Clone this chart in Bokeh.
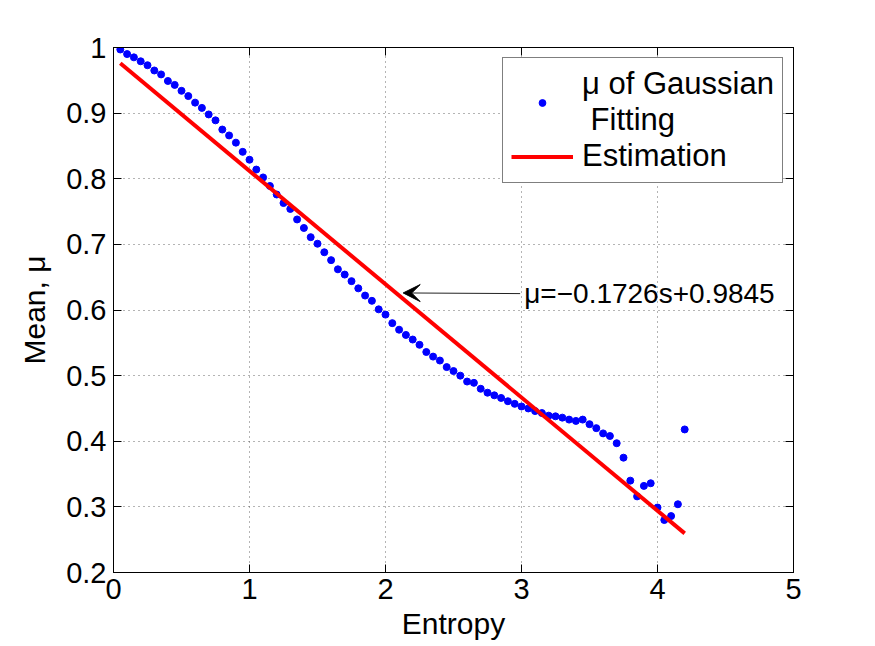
from bokeh.plotting import figure
from bokeh.models import (Range1d, FixedTicker, LinearAxis, Legend, LegendItem,
                          Arrow, VeeHead, Label, CustomJSTickFormatter, ColumnDataSource)
from bokeh.embed import file_html
from bokeh.resources import INLINE

# Entropy values and fitted Gaussian means
entropy = [0.05, 0.10, 0.15, 0.20, 0.25, 0.30, 0.35, 0.40, 0.45, 0.50,
           0.55, 0.60, 0.65, 0.70, 0.75, 0.80, 0.85, 0.90, 0.95, 1.00,
           1.05, 1.10, 1.15, 1.20, 1.25, 1.30, 1.35, 1.40, 1.45, 1.50,
           1.55, 1.60, 1.65, 1.70, 1.75, 1.80, 1.85, 1.90, 1.95, 2.00,
           2.05, 2.10, 2.15, 2.20, 2.25, 2.30, 2.35, 2.40, 2.45, 2.50,
           2.55, 2.60, 2.65, 2.70, 2.75, 2.80, 2.85, 2.90, 2.95, 3.00,
           3.05, 3.10, 3.15, 3.20, 3.25, 3.30, 3.35, 3.40, 3.45, 3.50,
           3.55, 3.60, 3.65, 3.70, 3.75, 3.80, 3.85, 3.90, 3.95, 4.00,
           4.05, 4.10, 4.15, 4.20]
mean_mu = [0.997, 0.990, 0.985, 0.979, 0.973, 0.965, 0.959, 0.949, 0.943, 0.934,
           0.926, 0.916, 0.908, 0.898, 0.889, 0.875, 0.866, 0.855, 0.841, 0.829,
           0.814, 0.802, 0.789, 0.776, 0.763, 0.754, 0.738, 0.725, 0.711, 0.701,
           0.688, 0.676, 0.662, 0.654, 0.644, 0.633, 0.622, 0.614, 0.601, 0.593,
           0.580, 0.570, 0.562, 0.555, 0.547, 0.536, 0.529, 0.523, 0.513, 0.507,
           0.500, 0.491, 0.489, 0.480, 0.474, 0.470, 0.466, 0.461, 0.457, 0.453,
           0.450, 0.446, 0.443, 0.439, 0.438, 0.436, 0.433, 0.431, 0.433, 0.426,
           0.420, 0.412, 0.408, 0.397, 0.375, 0.340, 0.316, 0.332, 0.336, 0.299,
           0.280, 0.286, 0.304, 0.418]

# Linear estimation mu = slope * s + intercept
slope = -0.1726
intercept = 0.9845
fit_s = [0.05, 4.20]
fit_mu = [slope * s + intercept for s in fit_s]

x_ticks = [0, 1, 2, 3, 4, 5]
y_ticks = [0.2, 0.3, 0.4, 0.5, 0.6, 0.7, 0.8, 0.9, 1.0]

equation_text = "\u03bc=\u22120.1726s+0.9845"
arrow_from = (2.99, 0.625)
arrow_to = (2.13, 0.626)

FONT = "Liberation Sans"

p = figure(width=875, height=646, output_backend="svg", toolbar_location=None,
           x_range=Range1d(0, 5), y_range=Range1d(0.2, 1.0),
           min_border_left=113, min_border_right=82, min_border_top=47,
           min_border_bottom=74, x_axis_label="Entropy", y_axis_label="Mean, \u03bc")
p.background_fill_color = "white"
p.border_fill_color = "white"
p.outline_line_color = "black"
p.outline_line_width = 1

fmt = CustomJSTickFormatter(code="return String(Math.round(tick*10)/10);")

for ax, ticks in ((p.xaxis[0], x_ticks), (p.yaxis[0], y_ticks)):
    ax.ticker = FixedTicker(ticks=ticks)
    ax.formatter = fmt
    ax.major_tick_in = 8
    ax.major_tick_out = 0
    ax.minor_tick_line_color = None
    ax.axis_line_color = "black"
    ax.major_tick_line_color = "black"
    ax.major_label_text_font = FONT
    ax.major_label_text_font_size = "29px"
    ax.major_label_text_color = "black"
    ax.axis_label_text_font = FONT
    ax.axis_label_text_font_size = "30px"
    ax.axis_label_text_font_style = "normal"
    ax.axis_label_text_color = "black"

p.xaxis[0].major_label_standoff = 6
p.xaxis[0].axis_label_standoff = 5
p.yaxis[0].major_label_standoff = 7
p.yaxis[0].axis_label_standoff = 12

# Mirror ticks on the top and right edges of the box
for side, ticks in (("right", y_ticks), ("above", x_ticks)):
    ax = LinearAxis(ticker=FixedTicker(ticks=ticks), major_label_text_font_size="0px",
                    major_tick_in=8, major_tick_out=0, minor_tick_line_color=None,
                    axis_line_color="black", major_label_standoff=0)
    p.add_layout(ax, side)

for g in (p.xgrid[0], p.ygrid[0]):
    g.grid_line_color = "#444444"
    g.grid_line_dash = "1 4"
    g.grid_line_width = 1
    g.grid_line_alpha = 0.8
p.xgrid[0].ticker = FixedTicker(ticks=x_ticks)
p.ygrid[0].ticker = FixedTicker(ticks=y_ticks)

src = ColumnDataSource(dict(s=entropy, mu=mean_mu))
pts = p.scatter("s", "mu", source=src, size=7, color="#0000ff", line_color="#0000ff")
fit = p.line(fit_s, fit_mu, line_color="#ff0000", line_width=4)

legend = Legend(items=[LegendItem(label="\u03bc of Gaussian\n Fitting", renderers=[pts]),
                       LegendItem(label="Estimation", renderers=[fit])],
                location=(389, 389), margin=0, padding=8, spacing=0,
                glyph_width=62, glyph_height=17, label_standoff=9,
                label_text_font=FONT, label_text_font_size="31px",
                label_text_line_height=1.1, label_text_color="black",
                border_line_color="black", border_line_width=1,
                background_fill_color="white", background_fill_alpha=1.0)
p.add_layout(legend, "center")

p.add_layout(Arrow(x_start=arrow_from[0], y_start=arrow_from[1],
                   x_end=arrow_to[0], y_end=arrow_to[1],
                   line_color="#222222", line_width=1,
                   end=VeeHead(size=17, fill_color="black", line_color="black")))
p.add_layout(Label(x=arrow_from[0] + 0.03, y=arrow_from[1], text=equation_text,
                   text_font=FONT, text_font_size="28px", text_baseline="middle",
                   text_color="black"))

open("out.html", "w").write(file_html(p, INLINE))
